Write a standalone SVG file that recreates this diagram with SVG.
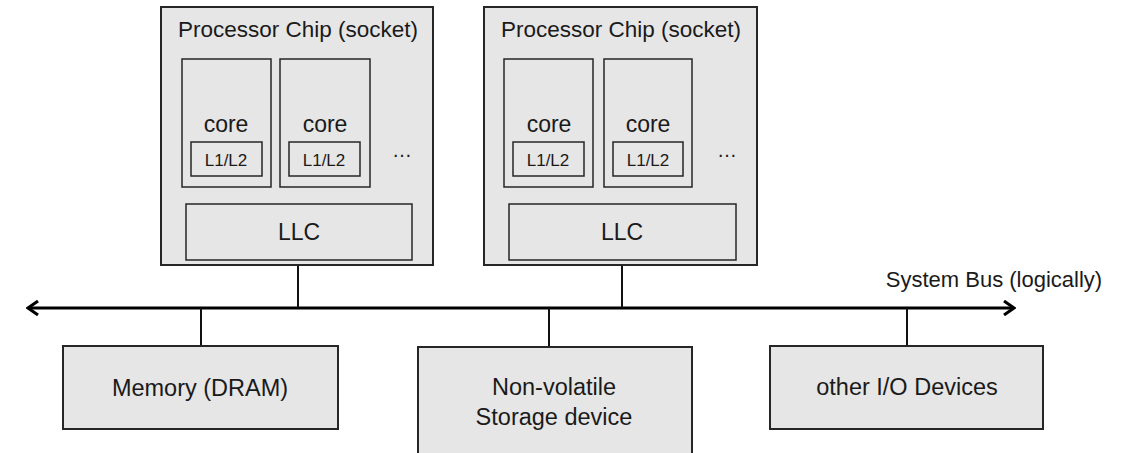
<svg xmlns="http://www.w3.org/2000/svg" width="1133" height="453" viewBox="0 0 1133 453">
<defs>
<style>
.box{fill:#e6e6e6;stroke:#262626;stroke-width:2}
.inner{fill:#e6e6e6;stroke:#262626;stroke-width:1.5}
.t{font-family:"Liberation Sans",Arial,sans-serif;fill:#1a1a1a;text-anchor:middle}
.line{stroke:#111;stroke-width:2;fill:none}
.bus{stroke:#000;stroke-width:3;fill:none}
</style>
<marker id="arr" viewBox="0 0 14 16" refX="12" refY="8" markerWidth="14" markerHeight="16" markerUnits="userSpaceOnUse" orient="auto-start-reverse">
<path d="M2,1 L12,8 L2,15" fill="none" stroke="#000" stroke-width="3"/>
</marker>
</defs>
<rect width="1133" height="453" fill="#fff"/>
<g id="connectors">
<line class="bus" x1="28" y1="308" x2="1014" y2="308" marker-start="url(#arr)" marker-end="url(#arr)"/>
<line class="line" x1="298" y1="265" x2="298" y2="308"/>
<line class="line" x1="622" y1="265" x2="622" y2="308"/>
<line class="line" x1="201" y1="308" x2="201" y2="346"/>
<line class="line" x1="549" y1="308" x2="549" y2="347"/>
<line class="line" x1="907" y1="308" x2="907" y2="346"/>
</g>
<g id="chip1">
<rect class="box" x="161" y="7" width="272" height="258"/>
<text class="t" x="298" y="37" font-size="22.5">Processor Chip (socket)</text>
<g id="chip1-core1">
<rect class="inner" x="182" y="59" width="89" height="128"/>
<text class="t" x="226" y="132" font-size="23">core</text>
<rect class="inner" x="191" y="142" width="71" height="34"/>
<text class="t" x="226" y="166" font-size="17">L1/L2</text>
</g>
<g id="chip1-core2">
<rect class="inner" x="280" y="59" width="90" height="128"/>
<text class="t" x="325" y="132" font-size="23">core</text>
<rect class="inner" x="289" y="142" width="71" height="34"/>
<text class="t" x="324" y="166" font-size="17">L1/L2</text>
</g>
<text class="t" x="402" y="157" font-size="20">…</text>
<g id="chip1-llc">
<rect class="inner" x="186" y="204" width="226" height="56"/>
<text class="t" x="299" y="240" font-size="23">LLC</text>
</g>
</g>
<g id="chip2">
<rect class="box" x="484" y="7" width="273" height="258"/>
<text class="t" x="621" y="37" font-size="22.5">Processor Chip (socket)</text>
<g id="chip2-core1">
<rect class="inner" x="504" y="59" width="89" height="128"/>
<text class="t" x="549" y="132" font-size="23">core</text>
<rect class="inner" x="513" y="142" width="71" height="34"/>
<text class="t" x="548" y="166" font-size="17">L1/L2</text>
</g>
<g id="chip2-core2">
<rect class="inner" x="604" y="59" width="88" height="128"/>
<text class="t" x="648" y="132" font-size="23">core</text>
<rect class="inner" x="613" y="142" width="70" height="34"/>
<text class="t" x="648" y="166" font-size="17">L1/L2</text>
</g>
<text class="t" x="727" y="157" font-size="20">…</text>
<g id="chip2-llc">
<rect class="inner" x="509" y="204" width="227" height="56"/>
<text class="t" x="622" y="240" font-size="23">LLC</text>
</g>
</g>
<g id="memory">
<rect class="box" x="63" y="346" width="275" height="83"/>
<text class="t" x="200" y="396" font-size="23.5">Memory (DRAM)</text>
</g>
<g id="storage">
<rect class="box" x="418" y="347" width="274" height="120"/>
<text class="t" x="554" y="395" font-size="23.5">Non-volatile</text>
<text class="t" x="554" y="425" font-size="23.5">Storage device</text>
</g>
<g id="io">
<rect class="box" x="770" y="346" width="273" height="83"/>
<text class="t" x="907" y="395" font-size="23.5">other I/O Devices</text>
</g>
<g id="buslabel">
<text class="t" x="994" y="287" font-size="22">System Bus (logically)</text>
</g>
</svg>
